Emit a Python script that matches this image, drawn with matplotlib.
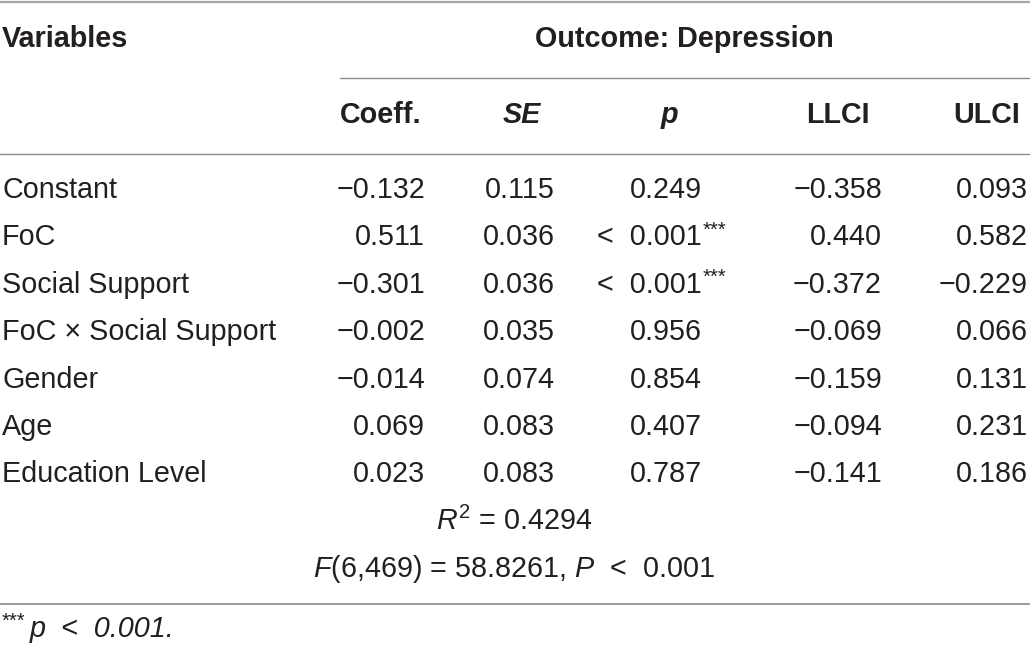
import matplotlib.pyplot as plt

plt.rcParams["font.family"] = ["Liberation Sans", "DejaVu Sans"]
plt.rcParams["mathtext.fontset"] = "custom"
plt.rcParams["mathtext.rm"] = "Liberation Sans"
plt.rcParams["mathtext.it"] = "Liberation Sans:italic"
plt.rcParams["mathtext.bf"] = "Liberation Sans:bold"

# table content
variables = ["Constant", "FoC", "Social Support", "FoC \u00d7 Social Support",
             "Gender", "Age", "Education Level"]
coeff = [-0.132, 0.511, -0.301, -0.002, -0.014, 0.069, 0.023]
se = [0.115, 0.036, 0.036, 0.035, 0.074, 0.083, 0.083]
p_vals = [0.249, 0.001, 0.001, 0.956, 0.854, 0.407, 0.787]
p_below = [False, True, True, False, False, False, False]
llci = [-0.358, 0.440, -0.372, -0.069, -0.159, -0.094, -0.141]
ulci = [0.093, 0.582, -0.229, 0.066, 0.131, 0.231, 0.186]
col_headers = ["Coeff.", "SE", "p", "LLCI", "ULCI"]
header_italic = [False, True, True, False, False]
r_squared = 0.4294
f_df = (6, 469)
f_value = 58.8261

TXT = "#231f20"
LINE = "#8c8c8c"
FS = 20.7


def fmt(v):
    return f"{v:.3f}".replace("-", "\u2212")


fig = plt.figure(figsize=(10.30, 6.47), dpi=100)
ax = fig.add_axes([0, 0, 1, 1])
ax.set_xlim(0, 1030)
ax.set_ylim(647, 0)
ax.axis("off")

# rules
ax.plot([0, 1030], [1.5, 1.5], color="#a6a6a6", lw=1.6, solid_capstyle="butt")
ax.plot([340, 1030], [77.5, 77.5], color=LINE, lw=1.0)
ax.plot([0, 1030], [153.5, 153.5], color=LINE, lw=1.0)
ax.plot([0, 1030], [603.5, 603.5], color=LINE, lw=1.2)

# top header
ax.text(2, 47, "Variables", fontsize=FS, fontweight="bold", color=TXT, va="baseline")
ax.text(684, 47, "Outcome: Depression", fontsize=FS, fontweight="bold",
        color=TXT, ha="center", va="baseline")

head_x = [381, 522, 669, 838, 987]
for x, h, it in zip(head_x, col_headers, header_italic):
    ax.text(x, 123, h, fontsize=FS, fontweight="bold",
            style="italic" if it else "normal", color=TXT, ha="center", va="baseline")

# body
row0, step = 198, 47.4
right_x = [425, 555, 702, 882, 1028]
for i, name in enumerate(variables):
    y = row0 + i * step
    ax.text(2, y, name, fontsize=FS, color=TXT, va="baseline")
    ax.text(right_x[0], y, fmt(coeff[i]), fontsize=FS, color=TXT, ha="right", va="baseline")
    ax.text(right_x[1], y, fmt(se[i]), fontsize=FS, color=TXT, ha="right", va="baseline")
    ptxt = ("<  " if p_below[i] else "") + fmt(p_vals[i])
    ax.text(right_x[2], y, ptxt, fontsize=FS, color=TXT, ha="right", va="baseline")
    if p_below[i]:
        ax.text(right_x[2] + 1, y - 10, "***", fontsize=FS * 0.7, color=TXT,
                ha="left", va="baseline")
    ax.text(right_x[3], y, fmt(llci[i]), fontsize=FS, color=TXT, ha="right", va="baseline")
    ax.text(right_x[4], y, fmt(ulci[i]), fontsize=FS, color=TXT, ha="right", va="baseline")

y_r2 = row0 + len(variables) * step
ax.text(514, y_r2, rf"$R^2$ = {r_squared:.4f}", fontsize=FS, color=TXT,
        ha="center", va="baseline")
ax.text(514, y_r2 + step, rf"$F$({f_df[0]},{f_df[1]}) = {f_value:.4f}, $P$  <  0.001",
        fontsize=FS, color=TXT, ha="center", va="baseline")

# footnote
ax.text(2, 627, "***", fontsize=FS * 0.7, color=TXT, va="baseline")
ax.text(30, 637, "p  <  0.001.", fontsize=FS, style="italic", color=TXT,
        va="baseline")

fig.savefig("out.png", dpi=100)
